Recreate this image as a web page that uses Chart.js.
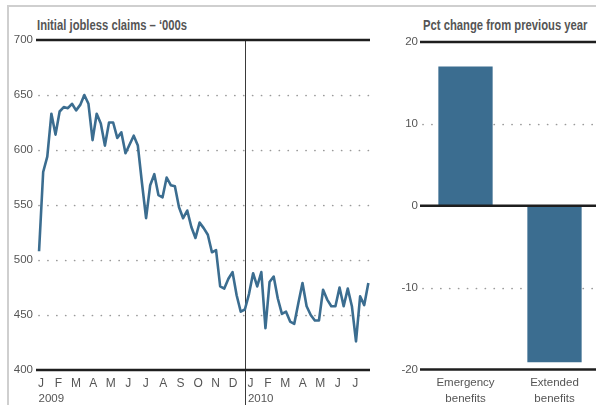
<!DOCTYPE html>
<html>
<head>
<meta charset="utf-8">
<script src="https://cdn.jsdelivr.net/npm/chart.js@4"></script>
<style>
body {
    margin: 0;
    width: 596px;
    height: 405px;
    overflow: hidden;
    position: relative;
    background: #fff;
    font-family: "Liberation Sans", Arial, sans-serif;
}
#frame {
    position: absolute;
    left: 7px;
    top: 5px;
    right: -10px;
    bottom: -10px;
    border-top: 2px solid #cfcfcf;
    border-left: 2px solid #cfcfcf;
}
.title {
    position: absolute;
    top: 16px;
    font-size: 15px;
    font-weight: bold;
    color: #555;
    white-space: nowrap;
    transform-origin: left top;
}
#claimsTitle { left: 37px; transform: scaleX(0.75); }
#pctTitle { left: 423px; transform: scaleX(0.75); }
#claimsChart { position: absolute; left: 0; top: 0; }
#pctChart { position: absolute; left: 380px; top: 0; }
</style>
</head>
<body>

<div id="frame"></div>
<div class="title" id="claimsTitle">Initial jobless claims – ‘000s</div>
<div class="title" id="pctTitle">Pct change from previous year</div>

<canvas id="claimsChart" width="380" height="405"></canvas>
<canvas id="pctChart" width="222" height="405"></canvas>

<script>
// --------------------------------------------
// Data
// --------------------------------------------

// weekly initial claims, first week of Jan 2009 onwards
const claims = [
    508, 580, 594, 633, 614, 635, 639, 638, 642, 636,
    641, 650, 642, 609, 633, 624, 604, 625, 625, 611,
    616, 597, 605, 613, 604, 570, 538, 568, 578, 559,
    557, 575, 568, 567, 548, 538, 545, 530, 520, 534,
    529, 523, 507, 509, 476, 474, 483, 489, 468, 453,
    455, 469, 488, 476, 489, 438, 480, 485, 465, 451,
    453, 444, 442, 461, 479, 458, 450, 445, 445, 473,
    464, 458, 458, 475, 458, 474, 458, 426, 467, 459,
    479
];

const monthLabels = ["J", "F", "M", "A", "M", "J", "J", "A", "S", "O", "N", "D",
                     "J", "F", "M", "A", "M", "J", "J"];

const yearLabels = ["2009", "2010"];

const claimsTicks = [400, 450, 500, 550, 600, 650, 700];

const benefitCategories = [["Emergency", "benefits"], ["Extended", "benefits"]];

const pctChange = [17, -19.1];

const pctTicks = [-20, -10, 0, 10, 20];


// --------------------------------------------
// Shared look
// --------------------------------------------

const FONT = "'Liberation Sans', Arial, sans-serif";
const BLUE = "#3b6d90";
const TEXT = "#555";

const weeksPerMonth = 4.24;
const firstMonthAt = 0.47;
const yearBreakWeek = 50;


// dotted grid lines behind the data, heavy rules on top
function gridPlugin(heavyValues) {

    return {

        id: "customGrid",

        beforeDatasetsDraw(chart) {

            const ctx = chart.ctx;
            const area = chart.chartArea;
            const y = chart.scales.y;

            ctx.save();
            ctx.strokeStyle = "#9a9a9a";
            ctx.lineWidth = 1.7;
            ctx.lineCap = "round";
            ctx.setLineDash([0.1, 8.8]);

            y.ticks.forEach(t => {
                if (heavyValues.includes(t.value)) return;
                const py = Math.round(y.getPixelForValue(t.value)) + 0.5;
                ctx.beginPath();
                ctx.moveTo(area.left + 2, py);
                ctx.lineTo(area.right, py);
                ctx.stroke();
            });

            ctx.restore();

            if (chart.canvas.id === "claimsChart") {
                const px = Math.round(chart.scales.x.getPixelForValue(yearBreakWeek)) + 0.5;
                ctx.save();
                ctx.strokeStyle = "#3a3a3a";
                ctx.lineWidth = 1;
                ctx.beginPath();
                ctx.moveTo(px, area.top);
                ctx.lineTo(px, chart.height);
                ctx.stroke();
                ctx.restore();
            }

        },

        afterDatasetsDraw(chart) {

            const ctx = chart.ctx;
            const area = chart.chartArea;
            const y = chart.scales.y;

            ctx.save();
            ctx.strokeStyle = "#1e1e1e";
            ctx.lineWidth = 2.5;

            heavyValues.forEach(v => {
                const py = y.getPixelForValue(v);
                ctx.beginPath();
                ctx.moveTo(area.left - 1, py);
                ctx.lineTo(area.right, py);
                ctx.stroke();
            });

            ctx.restore();

        }

    };

}


// year captions under the January ticks
const yearPlugin = {

    id: "years",

    afterDraw(chart) {

        const ctx = chart.ctx;
        const x = chart.scales.x;

        ctx.save();
        ctx.font = "11.5px " + FONT;
        ctx.fillStyle = TEXT;
        ctx.textAlign = "left";
        ctx.textBaseline = "middle";

        yearLabels.forEach((label, i) => {
            const px = x.getPixelForValue(firstMonthAt + i * 12 * weeksPerMonth);
            ctx.fillText(label, px - 2.5, 399);
        });

        ctx.restore();

    }

};


// --------------------------------------------
// Jobless claims line chart
// --------------------------------------------

new Chart(

    document.getElementById("claimsChart"),

    {

        type: "line",

        data: {

            datasets: [{

                data: claims.map((v, i) => ({ x: i, y: v })),

                borderColor: BLUE,

                borderWidth: 2.6,

                pointRadius: 0,

                tension: 0,

                borderJoinStyle: "round"

            }]

        },

        options: {

            responsive: false,

            animation: false,

            devicePixelRatio: 1,

            layout: {
                padding: { top: 40, right: 10, left: 0, bottom: 0 }
            },

            plugins: {
                legend: { display: false },
                tooltip: { enabled: false }
            },

            scales: {

                x: {

                    type: "linear",

                    bounds: "data",

                    min: -0.5,

                    max: 80.4,

                    grid: { display: false, drawTicks: false },

                    border: { display: false },

                    afterBuildTicks(scale) {
                        scale.ticks = monthLabels.map((l, i) => ({ value: firstMonthAt + i * weeksPerMonth }));
                    },

                    afterFit(scale) {
                        scale.height = 35;
                    },

                    ticks: {
                        autoSkip: false,
                        maxRotation: 0,
                        padding: 6,
                        color: TEXT,
                        font: { family: FONT, size: 12 },
                        callback: (value, index) => monthLabels[index]
                    }

                },

                y: {

                    min: 400,

                    max: 700,

                    grid: { display: false, drawTicks: false },

                    border: { display: false },

                    afterBuildTicks(scale) {
                        scale.ticks = claimsTicks.map(v => ({ value: v }));
                    },

                    afterFit(scale) {
                        scale.width = 37;
                    },

                    ticks: {
                        padding: 4,
                        color: TEXT,
                        font: { family: FONT, size: 11.5 }
                    }

                }

            }

        },

        plugins: [gridPlugin([400, 700]), yearPlugin]

    }

);


// --------------------------------------------
// Benefits bar chart
// --------------------------------------------

new Chart(

    document.getElementById("pctChart"),

    {

        type: "bar",

        data: {

            labels: benefitCategories,

            datasets: [{

                data: pctChange,

                backgroundColor: BLUE,

                borderWidth: 0,

                barPercentage: 0.61,

                categoryPercentage: 1

            }]

        },

        options: {

            responsive: false,

            animation: false,

            devicePixelRatio: 1,

            layout: {
                padding: { top: 42, right: 3, left: 0, bottom: 0 }
            },

            plugins: {
                legend: { display: false },
                tooltip: { enabled: false }
            },

            scales: {

                x: {

                    grid: { display: false, drawTicks: false },

                    border: { display: false },

                    afterFit(scale) {
                        scale.height = 35.5;
                    },

                    ticks: {
                        padding: 5,
                        color: TEXT,
                        font: { family: FONT, size: 11.5, lineHeight: 1.4 }
                    }

                },

                y: {

                    min: -20,

                    max: 20,

                    grid: { display: false, drawTicks: false },

                    border: { display: false },

                    afterBuildTicks(scale) {
                        scale.ticks = pctTicks.map(v => ({ value: v }));
                    },

                    afterFit(scale) {
                        scale.width = 41;
                    },

                    ticks: {
                        padding: 3,
                        color: TEXT,
                        font: { family: FONT, size: 11.5 }
                    }

                }

            }

        },

        plugins: [gridPlugin([-20, 0, 20])]

    }

);
</script>

</body>
</html>
